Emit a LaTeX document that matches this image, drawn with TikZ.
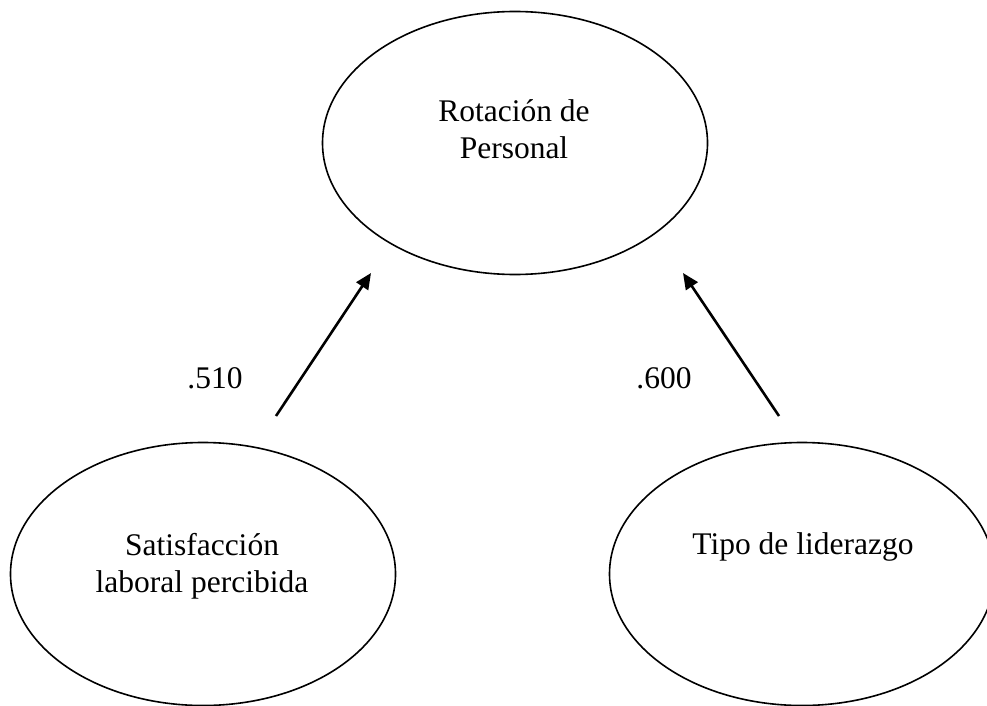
\documentclass[tikz,border=0pt]{standalone}
\usepackage{fontspec}
\setmainfont{Liberation Serif}
\usetikzlibrary{shapes.geometric,arrows.meta}
\tikzset{
  latent/.style={ellipse, draw, line width=1.6pt, minimum width=385pt, minimum height=263pt, inner sep=0pt},
  lbl/.style={font=\fontsize{31.5}{37}\selectfont, align=center, anchor=base, inner sep=0pt},
  path/.style={line width=2.6pt, -{Triangle[length=16pt,width=14pt]}}
}
\begin{document}
\begin{tikzpicture}[x=1pt,y=-1pt]
\useasboundingbox (0,0) rectangle (987,706);
\node[latent] (rot) at (515,143) {};
\node[latent] (sat) at (203,574) {};
\node[latent] (tip) at (802,574) {};
\node[lbl] (trot) at (514,158) {Rotación de\\Personal};
\node[lbl] (tsat) at (202,592) {Satisfacción\\laboral percibida};
\node[lbl] (ttip) at (803,554) {Tipo de liderazgo};
\coordinate (a1) at (276,416);
\coordinate (b1) at (371,273);
\coordinate (a2) at (779,416);
\coordinate (b2) at (683,273);
\draw[path] (a1) -- (b1);
\draw[path] (a2) -- (b2);
\node[lbl] (l1) at (215,388) {.510};
\node[lbl] (l2) at (664,388) {.600};
\end{tikzpicture}
\end{document}
